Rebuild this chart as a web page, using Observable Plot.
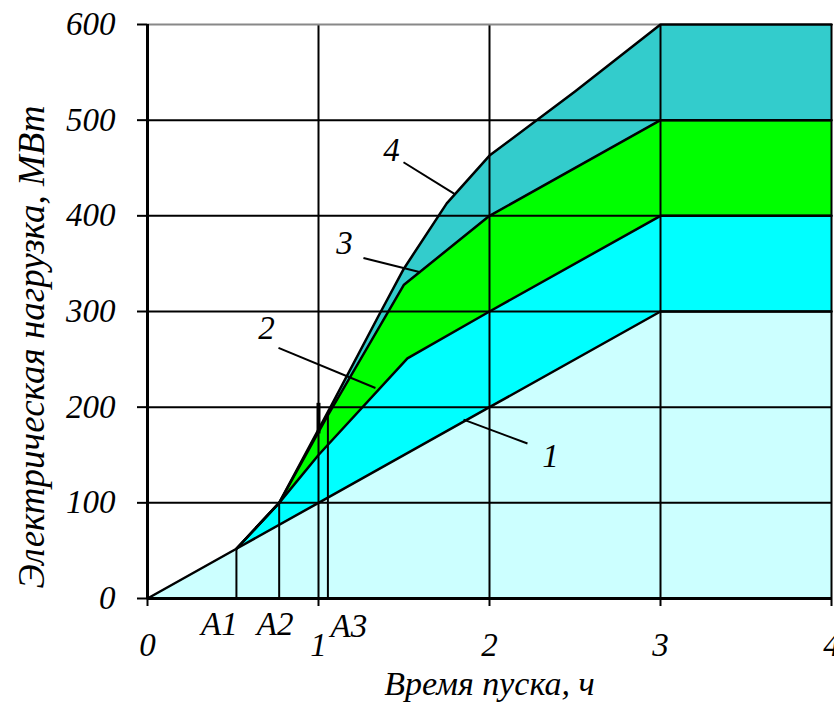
<!DOCTYPE html>
<html><head><meta charset="utf-8">
<script src="https://cdn.jsdelivr.net/npm/d3@7"></script>
<script src="https://cdn.jsdelivr.net/npm/@observablehq/plot@0.6"></script>
<style>body{margin:0;background:#fff} svg{display:block}</style>
</head><body><div id="chart"></div>
<script>
// Curve 1..4 (time in h, load in MW)
const curve1X = [0, 0.52, 1, 2, 3, 4];
const curve1Y = [0, 52, 100, 200, 300, 300];
const curve2X = [0.52, 0.77, 1, 1.52, 2, 3, 4];
const curve2Y = [52, 100, 150, 251, 300, 400, 400];
const curve3X = [0.52, 0.77, 1.05, 1.5, 2, 3, 4];
const curve3Y = [52, 100, 190, 328, 400, 500, 500];
const curve4X = [0.52, 0.77, 1.07, 1.35, 1.5, 1.75, 2, 2.5, 3, 4];
const curve4Y = [52, 100, 200, 295, 345, 413, 463, 530, 600, 600];

// Points A1, A2, A3
const dropNames = ["A1", "A2", "A3"];
const dropX = [0.52, 0.77, 1.055];
const dropTop = [52, 100, 192];

// Curve labels and leader lines
const curveNames = ["1", "2", "3", "4"];
const labelX = [2.357, 0.696, 1.152, 1.427];
const labelY = [148, 282, 371, 468];
const leaderX1 = [2.222, 0.766, 1.263, 1.497];
const leaderY1 = [162, 262, 356, 456];
const leaderX2 = [1.848, 1.333, 1.596, 1.795];
const leaderY2 = [187, 220, 341, 423];

const xTicks = [0, 1, 2, 3, 4];
const yTicks = [0, 100, 200, 300, 400, 500, 600];
const gridX = [1, 2, 3, 4];
const gridY = [100, 200, 300, 400, 500];

const xTitle = "Время пуска, ч";
const yTitle = "Электрическая нагрузка, МВт";

const pts = (xs, ys) => xs.map((x, i) => ({x, y: ys[i]}));
const c1 = pts(curve1X, curve1Y), c2 = pts(curve2X, curve2Y),
      c3 = pts(curve3X, curve3Y), c4 = pts(curve4X, curve4Y);
const drops = dropX.map((x, i) => ({x, top: dropTop[i], name: dropNames[i]}));
const labels = curveNames.map((t, i) => ({t, x: labelX[i], y: labelY[i]}));
const leaders = curveNames.map((t, i) => ({x1: leaderX1[i], y1: leaderY1[i], x2: leaderX2[i], y2: leaderY2[i]}));

const FS = 33;
const chart = Plot.plot({
  width: 834, height: 703,
  marginLeft: 147, marginRight: 3, marginTop: 24, marginBottom: 105,
  x: {domain: [0, 4]},
  y: {domain: [0, 600]},
  style: {fontFamily: "'Liberation Serif', 'Times New Roman', serif", fontStyle: "italic", fontSize: FS + "px", background: "white", color: "black"},
  marks: [
    Plot.areaY(c4, {x: "x", y: "y", fill: "#33cccc"}),
    Plot.areaY(c3, {x: "x", y: "y", fill: "#00ff00"}),
    Plot.areaY(c2, {x: "x", y: "y", fill: "#00ffff"}),
    Plot.areaY(c1, {x: "x", y: "y", fill: "#ccffff"}),
    Plot.ruleY(gridY, {stroke: "black", strokeWidth: 2}),
    Plot.ruleX(gridX, {y1: 0, y2: 600, stroke: "black", strokeWidth: 2}),
    Plot.ruleY([{y: 600, x1: 0, x2: 3}], {y: "y", x1: "x1", x2: "x2", stroke: "#888", strokeWidth: 2}),
    Plot.ruleX([{x: 1, a: 172, b: 204}], {x: "x", y1: "a", y2: "b", stroke: "black", strokeWidth: 4}),
    Plot.line(c1, {x: "x", y: "y", stroke: "black", strokeWidth: 2.5}),
    Plot.line(c2, {x: "x", y: "y", stroke: "black", strokeWidth: 2.5}),
    Plot.line(c3, {x: "x", y: "y", stroke: "black", strokeWidth: 2.5}),
    Plot.line(c4, {x: "x", y: "y", stroke: "black", strokeWidth: 2.5}),
    Plot.ruleX(drops, {x: "x", y1: 0, y2: "top", stroke: "black", strokeWidth: 2}),
    Plot.ruleX([0], {y1: 0, y2: 600, stroke: "black", strokeWidth: 3}),
    Plot.ruleY([0], {stroke: "black", strokeWidth: 3}),
    Plot.axisX({ticks: xTicks, tickFormat: "d", tickSize: 8, tickPadding: 26, label: null, stroke: "black", strokeWidth: 2, fontSize: FS, fill: "black"}),
    Plot.axisY({ticks: yTicks, tickFormat: "d", tickSize: 10, tickPadding: 22, label: null, stroke: "black", strokeWidth: 2, fontSize: FS, fill: "black"}),
    Plot.text([drops[0]], {x: "x", y: 0, text: "name", dy: 26, dx: -17, fontSize: FS, fill: "black"}),
    Plot.text([drops[1]], {x: "x", y: 0, text: "name", dy: 26, dx: -4, fontSize: FS, fill: "black"}),
    Plot.text([drops[2]], {x: "x", y: 0, text: "name", dy: 28, dx: 21, fontSize: FS, fill: "black"}),
    Plot.link(leaders, {x1: "x1", y1: "y1", x2: "x2", y2: "y2", stroke: "black", strokeWidth: 2}),
    Plot.text(labels, {x: "x", y: "y", text: "t", fontSize: FS, fill: "black"}),
    Plot.text([{t: xTitle, x: 2}], {x: "x", text: "t", frameAnchor: "bottom", lineAnchor: "middle", textAnchor: "middle", dy: 86, fontSize: 34, fill: "black"}),
    Plot.text([{t: yTitle, y: 263}], {y: "y", text: "t", frameAnchor: "left", lineAnchor: "middle", textAnchor: "middle", dx: -115, rotate: -90, fontSize: 37, fill: "black"})
  ]
});
document.getElementById("chart").appendChild(chart);
</script>
</body></html>
